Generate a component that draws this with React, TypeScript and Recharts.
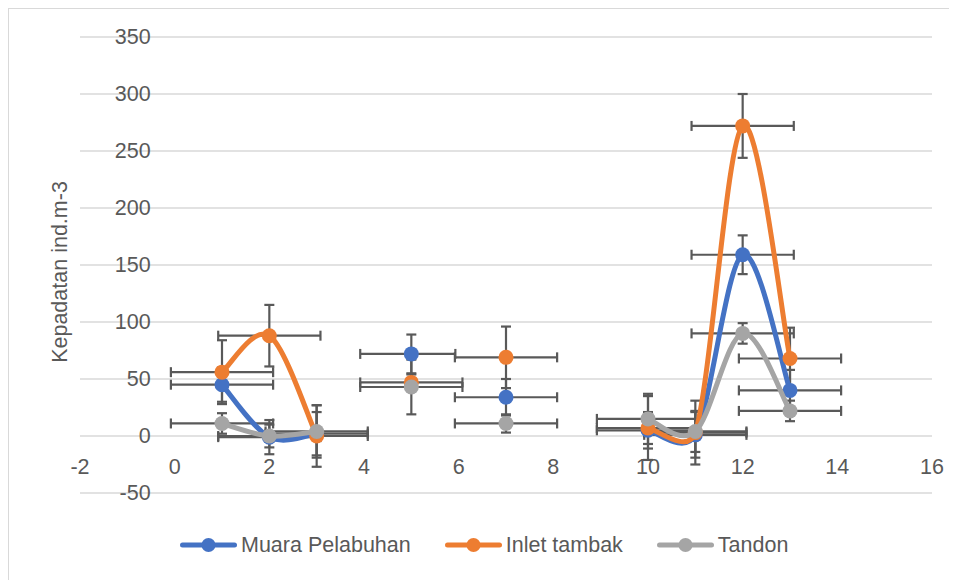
import React from 'react';
import { ScatterChart, Scatter, XAxis, YAxis, CartesianGrid, ErrorBar } from 'recharts';

// ---------- data ----------
const xValues = [1, 2, 3, 5, 7, 10, 11, 12, 13];

const muaraValues = [45, -1, 2, 72, 34, 5, 1, 159, 40];
const muaraYErr = [15, 15, 19, 17, 16, 16, 20, 17, 18];
const muaraXErr: (number | [number, number])[] = [1.08, 1.08, 1.08, [1.08, 0.93], 1.08, 1.08, 1.08, 1.08, 1.08];

const inletValues = [56, 88, 0, 47, 69, 7, 3, 272, 68];
const inletYErr = [28, 27, 27, 7, 27, 28, 28, 28, 27];
const inletXErr: (number | [number, number])[] = [1.08, 1.08, 1.08, 1.08, 1.08, 1.08, 1.08, 1.08, 1.08];

const tandonValues = [11, 0, 4, 43, 11, 15, 4, 90, 22];
const tandonYErr = [9, 10, 23, 24, 8, 22, 18, 9, 9];
const tandonXErr: (number | [number, number])[] = [1.08, 1.08, 1.08, 1.08, 1.08, 1.08, 1.08, 1.08, 1.08];

// indices of points joined by a smoothed line (empty cells break the line)
const lineSegments = [
  [0, 1, 2],
  [5, 6, 7, 8],
];

const xTicks = [-2, 0, 2, 4, 6, 8, 10, 12, 14, 16];
const yTicks = [-50, 0, 50, 100, 150, 200, 250, 300, 350];
const yAxisTitle = 'Kepadatan ind.m-3';

const seriesList = [
  { name: 'Muara Pelabuhan', color: '#4472C4', values: muaraValues, yErr: muaraYErr, xErr: muaraXErr },
  { name: 'Inlet tambak', color: '#ED7D31', values: inletValues, yErr: inletYErr, xErr: inletXErr },
  { name: 'Tandon', color: '#A5A5A5', values: tandonValues, yErr: tandonYErr, xErr: tandonXErr },
];

// ---------- layout ----------
const FONT = '"Liberation Sans", Arial, sans-serif';
const TEXT = '#595959';
const CHART_W = 948;
const CHART_H = 571;
const PLOT_LEFT = 71;
const PLOT_TOP = 28;
const PLOT_RIGHT_MARGIN = 25;
const X_AXIS_H = 40;
const BOTTOM_MARGIN = 47;
const PLOT_W = CHART_W - PLOT_LEFT - PLOT_RIGHT_MARGIN;
const PLOT_H = CHART_H - PLOT_TOP - X_AXIS_H - BOTTOM_MARGIN;
const X_MIN = xTicks[0];
const X_MAX = xTicks[xTicks.length - 1];
const Y_MIN = yTicks[0];
const Y_MAX = yTicks[yTicks.length - 1];
const ZERO_X = PLOT_LEFT + ((0 - X_MIN) / (X_MAX - X_MIN)) * PLOT_W;
const ZERO_Y = PLOT_TOP + ((Y_MAX - 0) / (Y_MAX - Y_MIN)) * PLOT_H;
const FS = 21.5;

const dist = (a: number[], b: number[]) => Math.hypot(b[0] - a[0], b[1] - a[1]);

// Excel-like smoothed line: Bezier with 1/6 tangents, capped to half the segment length
function excelSmooth(context: any) {
  let pts: number[][] = [];
  return {
    areaStart() {},
    areaEnd() {},
    lineStart() {
      pts = [];
    },
    point(x: number, y: number) {
      pts.push([+x, +y]);
    },
    lineEnd() {
      const n = pts.length;
      if (!n) return;
      context.moveTo(pts[0][0], pts[0][1]);
      if (n === 2) {
        context.lineTo(pts[1][0], pts[1][1]);
        return;
      }
      for (let i = 0; i < n - 1; i++) {
        const p0 = pts[i - 1] || pts[i];
        const p1 = pts[i];
        const p2 = pts[i + 1];
        const p3 = pts[i + 2] || p2;
        const d12 = dist(p1, p2);
        const d02 = dist(p0, p2);
        const d13 = dist(p1, p3);
        let f1 = 1 / 6;
        let f2 = 1 / 6;
        if (d02 / 6 > d12 / 2 && d02 > 0) f1 = d12 / (2 * d02);
        if (d13 / 6 > d12 / 2 && d13 > 0) f2 = d12 / (2 * d13);
        context.bezierCurveTo(
          p1[0] + (p2[0] - p0[0]) * f1,
          p1[1] + (p2[1] - p0[1]) * f1,
          p2[0] - (p3[0] - p1[0]) * f2,
          p2[1] - (p3[1] - p1[1]) * f2,
          p2[0],
          p2[1]
        );
      }
    },
  };
}

const buildPoints = (s: (typeof seriesList)[number]) =>
  xValues.map((x, i) => ({ x, y: s.values[i], ex: s.xErr[i], ey: s.yErr[i] }));

const YTick = (props: any) => (
  <text
    x={ZERO_X - 24}
    y={props.y}
    textAnchor="end"
    dominantBaseline="central"
    fill={TEXT}
    fontSize={FS}
    fontFamily={FONT}
  >
    {props.payload.value}
  </text>
);

const XTick = (props: any) => (
  <text
    x={props.x}
    y={ZERO_Y + 31}
    textAnchor="middle"
    dominantBaseline="central"
    fill={TEXT}
    fontSize={FS}
    fontFamily={FONT}
  >
    {props.payload.value}
  </text>
);

const emptyShape = () => <g />;
const dotShape = (color: string) => (props: any) =>
  <circle cx={props.cx} cy={props.cy} r={7.5} fill={color} />;

const LegendItem = ({ name, color }: { name: string; color: string }) => (
  <div style={{ display: 'flex', alignItems: 'center' }}>
    <svg width={57} height={16} style={{ display: 'block' }}>
      <line x1={2.5} y1={8} x2={54.5} y2={8} stroke={color} strokeWidth={5} strokeLinecap="round" />
      <circle cx={28.5} cy={8} r={7} fill={color} />
    </svg>
    <span style={{ marginLeft: 4, fontSize: FS, color: TEXT, fontFamily: FONT, lineHeight: '24px' }}>{name}</span>
  </div>
);

export default function App() {
  return (
    <div
      style={{
        position: 'relative',
        width: CHART_W + 1,
        height: CHART_H + 1,
        borderLeft: '1px solid #d9d9d9',
        borderTop: '1px solid #d9d9d9',
        boxSizing: 'border-box',
        background: '#fff',
        fontFamily: FONT,
      }}
    >
      <ScatterChart
        width={CHART_W}
        height={CHART_H}
        margin={{ top: PLOT_TOP, right: PLOT_RIGHT_MARGIN, bottom: BOTTOM_MARGIN, left: 0 }}
      >
        <CartesianGrid horizontal vertical={false} stroke="#d9d9d9" strokeWidth={1.3} />
        <XAxis
          type="number"
          dataKey="x"
          domain={[X_MIN, X_MAX]}
          ticks={xTicks}
          allowDataOverflow
          axisLine={false}
          tickLine={false}
          height={X_AXIS_H}
          tick={XTick}
          interval={0}
        />
        <YAxis
          type="number"
          dataKey="y"
          domain={[Y_MIN, Y_MAX]}
          ticks={yTicks}
          allowDataOverflow
          axisLine={false}
          tickLine={false}
          width={PLOT_LEFT}
          tick={YTick}
          interval={0}
          label={{
            content: () => (
              <text
                x={51}
                y={PLOT_TOP + PLOT_H / 2 + 7}
                transform={`rotate(-90 51 ${PLOT_TOP + PLOT_H / 2 + 7})`}
                textAnchor="middle"
                dominantBaseline="central"
                fill={TEXT}
                fontSize={FS}
                fontFamily={FONT}
              >
                {yAxisTitle}
              </text>
            ),
          }}
        />
        {seriesList.flatMap((s, si) => {
          const pts = buildPoints(s);
          const lines = lineSegments.map((seg, gi) => (
            <Scatter
              key={`line-${si}-${gi}`}
              data={seg.map((i) => pts[i])}
              line={{ stroke: s.color, strokeWidth: 5, strokeLinecap: 'round', fill: 'none' }}
              lineJointType={excelSmooth as any}
              shape={emptyShape}
              fill={s.color}
              isAnimationActive={false}
            />
          ));
          return [
            ...lines,
            <Scatter
              key={`pts-${si}`}
              name={s.name}
              data={pts}
              shape={dotShape(s.color)}
              fill={s.color}
              isAnimationActive={false}
            >
              <ErrorBar dataKey="ex" direction="x" stroke="#595959" strokeWidth={2.2} width={5} />
              <ErrorBar dataKey="ey" direction="y" stroke="#595959" strokeWidth={2.2} width={5} />
            </Scatter>,
          ];
        })}
      </ScatterChart>
      <div
        style={{
          position: 'absolute',
          left: 171,
          top: 524,
          display: 'flex',
          gap: 34,
          alignItems: 'center',
        }}
      >
        {seriesList.map((s) => (
          <LegendItem key={s.name} name={s.name} color={s.color} />
        ))}
      </div>
    </div>
  );
}
